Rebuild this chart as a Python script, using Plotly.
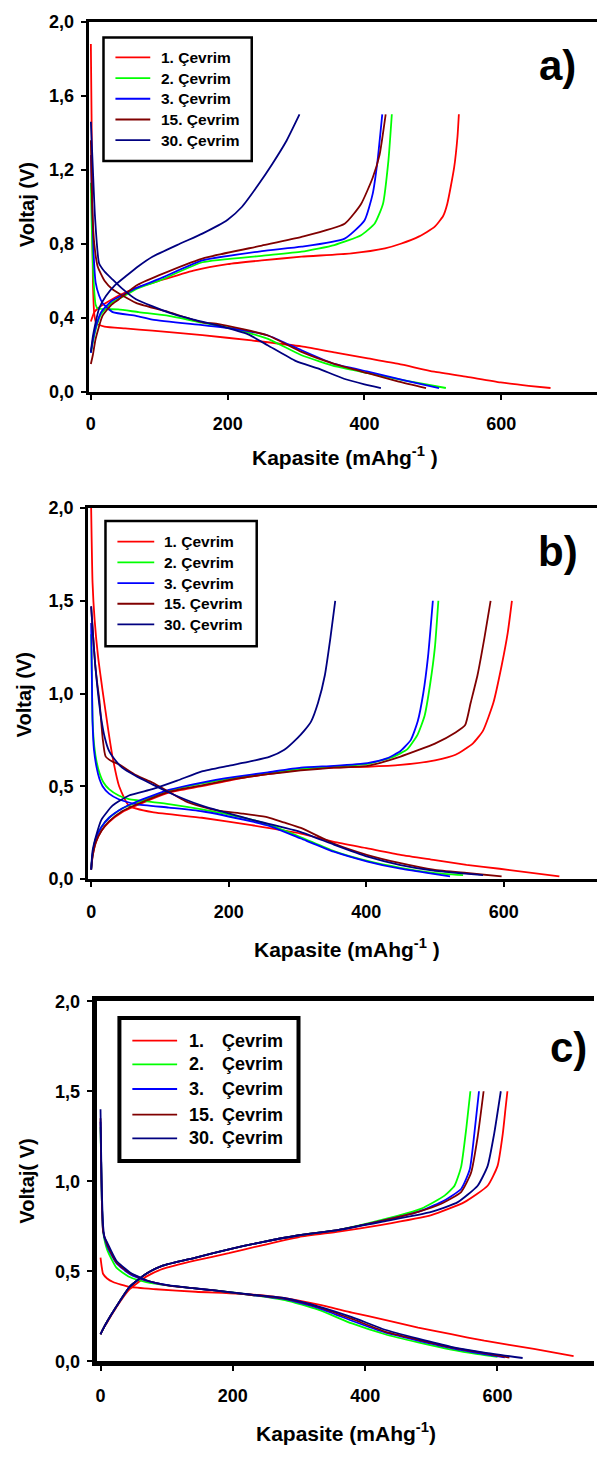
import plotly.graph_objects as go

W, H = 597, 1461
COLORS = ["#FF0000", "#00FF00", "#0000FF", "#800000", "#000080"]
CYCLES = ["1. Çevrim", "2. Çevrim", "3. Çevrim", "15. Çevrim", "30. Çevrim"]
CYCLE_NUMS = ["1.", "2.", "3.", "15.", "30."]
X_TICKS = [0, 200, 400, 600]
X_TICKTEXT = ["0", "200", "400", "600"]
YA_TICKS = [0, 0.4, 0.8, 1.2, 1.6, 2.0]
YA_TICKTEXT = ["0,0", "0,4", "0,8", "1,2", "1,6", "2,0"]
YB_TICKS = [0, 0.5, 1.0, 1.5, 2.0]
YB_TICKTEXT = ["0,0", "0,5", "1,0", "1,5", "2,0"]

# ---------------- Panel a ----------------
A1_DIS_CAP = [0, 1, 2, 3, 5, 8, 20, 50, 90, 163, 235, 308, 360, 405, 450, 502, 550, 599, 640, 672]
A1_DIS_V = [1.88, 1.5, 1.0, 0.6, 0.42, 0.37, 0.352, 0.342, 0.33, 0.306, 0.277, 0.245, 0.21, 0.18, 0.15, 0.108, 0.08, 0.05, 0.032, 0.02]
A1_CHG_CAP = [0, 5, 10, 20, 41, 66, 100, 150, 200, 250, 308, 381, 430, 453, 480, 502, 515, 521, 531, 536, 538]
A1_CHG_V = [0.38, 0.43, 0.45, 0.475, 0.52, 0.56, 0.6, 0.655, 0.69, 0.71, 0.73, 0.748, 0.775, 0.8, 0.84, 0.89, 0.95, 1.015, 1.21, 1.38, 1.5]

A2_DIS_CAP = [0, 1, 2, 4, 7, 10, 40, 70, 114, 163, 210, 259, 308, 360, 405, 460, 519]
A2_DIS_V = [1.13, 0.95, 0.8, 0.6, 0.47, 0.45, 0.445, 0.43, 0.41, 0.373, 0.34, 0.286, 0.197, 0.135, 0.1, 0.06, 0.02]
A2_CHG_CAP = [0, 3, 8, 15, 30, 50, 66, 100, 163, 250, 308, 356, 395, 415, 427, 435, 440]
A2_CHG_V = [0.21, 0.27, 0.35, 0.42, 0.48, 0.52, 0.555, 0.6, 0.7, 0.735, 0.757, 0.793, 0.846, 0.91, 1.015, 1.25, 1.5]

A3_DIS_CAP = [0, 2, 4, 7, 12, 17, 32, 66, 90, 163, 210, 259, 308, 356, 405, 460, 509]
A3_DIS_V = [1.28, 1.0, 0.75, 0.59, 0.52, 0.48, 0.43, 0.41, 0.39, 0.36, 0.34, 0.304, 0.224, 0.15, 0.108, 0.06, 0.02]
A3_CHG_CAP = [0, 3, 8, 15, 30, 50, 66, 100, 163, 250, 308, 371, 400, 412, 419, 426]
A3_CHG_V = [0.21, 0.28, 0.36, 0.43, 0.49, 0.53, 0.56, 0.61, 0.71, 0.76, 0.784, 0.828, 0.926, 1.07, 1.246, 1.5]

A15_DIS_CAP = [0, 2, 5, 10, 20, 32, 66, 114, 163, 187, 259, 308, 356, 405, 450, 490]
A15_DIS_V = [1.36, 1.0, 0.8, 0.677, 0.6, 0.553, 0.48, 0.43, 0.375, 0.366, 0.304, 0.215, 0.15, 0.1, 0.055, 0.02]
A15_CHG_CAP = [0, 3, 7, 17, 30, 41, 66, 100, 163, 250, 308, 371, 395, 412, 422, 431]
A15_CHG_V = [0.15, 0.2, 0.286, 0.41, 0.47, 0.5, 0.573, 0.63, 0.72, 0.79, 0.837, 0.908, 1.015, 1.157, 1.28, 1.5]

A30_DIS_CAP = [0, 3, 6, 12, 20, 32, 45, 66, 114, 150, 187, 230, 259, 300, 332, 370, 400, 424]
A30_DIS_V = [1.46, 1.2, 0.95, 0.695, 0.65, 0.606, 0.56, 0.5, 0.428, 0.39, 0.357, 0.31, 0.25, 0.165, 0.126, 0.07, 0.04, 0.02]
A30_CHG_CAP = [0, 3, 7, 12, 22, 35, 51, 70, 90, 130, 163, 200, 221, 245, 265, 285, 305]
A30_CHG_V = [0.215, 0.3, 0.375, 0.45, 0.517, 0.575, 0.624, 0.68, 0.73, 0.8, 0.855, 0.93, 1.0, 1.12, 1.23, 1.35, 1.5]

# ---------------- Panel b ----------------
B1_DIS_CAP = [0, 2, 5, 10, 16.6, 25, 31, 40.7, 55, 89, 161, 233, 305, 353, 402, 450, 498, 546, 594, 681]
B1_DIS_V = [2.0, 1.6, 1.4, 1.2, 1.016, 0.8, 0.66, 0.5, 0.395, 0.36, 0.33, 0.29, 0.245, 0.2, 0.165, 0.13, 0.103, 0.076, 0.055, 0.014]
B1_CHG_CAP = [0, 2, 7, 15, 26, 45, 65, 113, 161, 209, 257, 305, 353, 402, 450, 500, 530, 555, 570, 585, 597, 606, 612]
B1_CHG_V = [0.05, 0.12, 0.2, 0.26, 0.307, 0.36, 0.395, 0.466, 0.5, 0.537, 0.565, 0.59, 0.6, 0.605, 0.615, 0.64, 0.67, 0.73, 0.8, 0.95, 1.15, 1.33, 1.5]

B2_DIS_CAP = [0, 1, 2, 4.6, 8, 12, 18, 26, 40, 55, 113, 161, 233, 260, 305, 353, 402, 450, 498, 541]
B2_DIS_V = [1.32, 1.1, 0.86, 0.714, 0.63, 0.573, 0.52, 0.484, 0.45, 0.43, 0.404, 0.375, 0.32, 0.29, 0.225, 0.15, 0.097, 0.06, 0.033, 0.02]
B2_CHG_CAP = [0, 2, 7, 15, 26, 45, 65, 113, 161, 209, 257, 305, 353, 402, 440, 460, 475, 485, 493, 500, 505]
B2_CHG_V = [0.05, 0.13, 0.22, 0.28, 0.33, 0.38, 0.41, 0.475, 0.515, 0.545, 0.57, 0.595, 0.605, 0.62, 0.66, 0.7, 0.78, 0.88, 1.05, 1.25, 1.5]

B3_DIS_CAP = [0, 1, 2, 4, 8, 12, 16.6, 26, 40, 65, 113, 161, 233, 260, 305, 353, 402, 450, 498, 522]
B3_DIS_V = [1.38, 1.1, 0.85, 0.7, 0.6, 0.54, 0.5, 0.46, 0.43, 0.404, 0.385, 0.365, 0.31, 0.285, 0.218, 0.147, 0.094, 0.055, 0.027, 0.014]
B3_CHG_CAP = [0, 2, 7, 15, 26, 45, 65, 113, 161, 209, 257, 305, 353, 402, 430, 450, 465, 475, 483, 490, 497]
B3_CHG_V = [0.05, 0.13, 0.22, 0.28, 0.33, 0.38, 0.415, 0.48, 0.52, 0.55, 0.575, 0.6, 0.61, 0.625, 0.65, 0.69, 0.75, 0.85, 1.0, 1.2, 1.5]

B15_DIS_CAP = [0, 3, 6, 9, 12, 17, 21, 30, 41, 65, 89, 113, 137, 161, 185, 221, 257, 280, 305, 353, 402, 450, 498, 546, 597]
B15_DIS_V = [1.47, 1.3, 1.15, 1.05, 0.963, 0.75, 0.661, 0.635, 0.617, 0.56, 0.52, 0.47, 0.42, 0.39, 0.368, 0.352, 0.332, 0.305, 0.275, 0.191, 0.129, 0.085, 0.05, 0.032, 0.014]
B15_CHG_CAP = [0, 2, 7, 15, 26, 45, 65, 113, 161, 209, 257, 305, 353, 402, 450, 500, 530, 544, 552, 562, 572, 581]
B15_CHG_V = [0.05, 0.12, 0.2, 0.26, 0.31, 0.365, 0.4, 0.47, 0.505, 0.54, 0.565, 0.585, 0.6, 0.61, 0.66, 0.73, 0.79, 0.83, 0.95, 1.1, 1.3, 1.5]

B30_DIS_CAP = [0, 3, 6, 10, 14, 20, 26, 31, 45, 65, 89, 113, 161, 233, 305, 353, 402, 450, 498, 540, 570]
B30_DIS_V = [1.47, 1.3, 1.15, 1.0, 0.88, 0.76, 0.69, 0.66, 0.6, 0.555, 0.51, 0.466, 0.395, 0.32, 0.253, 0.185, 0.12, 0.075, 0.045, 0.03, 0.02]
B30_CHG_CAP = [0, 2, 7, 15, 31, 55, 89, 125, 161, 200, 233, 260, 281, 300, 310, 320, 330, 340, 348, 355]
B30_CHG_V = [0.05, 0.15, 0.23, 0.32, 0.395, 0.45, 0.484, 0.53, 0.58, 0.61, 0.635, 0.66, 0.697, 0.76, 0.8, 0.85, 0.95, 1.1, 1.3, 1.5]

# ---------------- Panel c ----------------
C1_DIS_CAP = [0, 2, 3.8, 10, 19, 44, 84, 144, 239, 279, 330, 380, 405, 480, 530, 580, 655, 715]
C1_DIS_V = [0.576, 0.52, 0.486, 0.46, 0.44, 0.413, 0.4, 0.386, 0.368, 0.35, 0.314, 0.27, 0.25, 0.187, 0.15, 0.114, 0.069, 0.029]
C1_CHG_CAP = [0, 4, 9, 24, 44, 69, 94, 144, 194, 239, 300, 360, 425, 500, 550, 585, 600, 608, 612, 615]
C1_CHG_V = [0.15, 0.18, 0.21, 0.3, 0.4, 0.47, 0.513, 0.56, 0.6, 0.64, 0.69, 0.72, 0.758, 0.812, 0.884, 0.975, 1.084, 1.265, 1.4, 1.5]

C2_DIS_CAP = [0, 1, 2, 4, 10, 24, 44, 69, 104, 169, 229, 279, 330, 380, 430, 480, 530, 570, 600]
C2_DIS_V = [1.3, 1.1, 0.9, 0.72, 0.62, 0.52, 0.468, 0.44, 0.42, 0.395, 0.368, 0.34, 0.285, 0.21, 0.15, 0.105, 0.065, 0.04, 0.025]
C2_CHG_CAP = [0, 4, 9, 24, 44, 69, 94, 144, 194, 239, 300, 360, 425, 485, 520, 535, 545, 553, 559]
C2_CHG_V = [0.15, 0.18, 0.214, 0.304, 0.413, 0.486, 0.531, 0.576, 0.622, 0.658, 0.7, 0.73, 0.785, 0.848, 0.92, 0.975, 1.08, 1.3, 1.5]

C3_DIS_CAP = [0, 1, 2, 4, 10, 24, 44, 69, 104, 169, 229, 279, 330, 380, 430, 480, 530, 580, 611]
C3_DIS_V = [1.33, 1.1, 0.9, 0.72, 0.64, 0.545, 0.485, 0.448, 0.42, 0.395, 0.368, 0.345, 0.295, 0.225, 0.16, 0.115, 0.073, 0.04, 0.022]
C3_CHG_CAP = [0, 4, 9, 24, 44, 69, 94, 144, 194, 239, 300, 360, 425, 480, 515, 545, 558, 565, 572]
C3_CHG_V = [0.15, 0.18, 0.214, 0.304, 0.413, 0.486, 0.531, 0.576, 0.622, 0.658, 0.7, 0.73, 0.78, 0.83, 0.884, 0.957, 1.065, 1.265, 1.5]

C15_DIS_CAP = [0, 1, 2, 4, 10, 24, 44, 69, 104, 169, 229, 279, 330, 380, 430, 480, 530, 580, 618]
C15_DIS_V = [1.35, 1.1, 0.9, 0.72, 0.65, 0.55, 0.49, 0.45, 0.42, 0.395, 0.368, 0.348, 0.3, 0.235, 0.165, 0.12, 0.077, 0.045, 0.02]
C15_CHG_CAP = [0, 4, 9, 24, 44, 69, 94, 144, 194, 239, 300, 360, 425, 480, 515, 545, 560, 570, 579]
C15_CHG_V = [0.15, 0.18, 0.214, 0.304, 0.413, 0.486, 0.531, 0.576, 0.622, 0.658, 0.7, 0.73, 0.78, 0.83, 0.875, 0.94, 1.047, 1.247, 1.5]

C30_DIS_CAP = [0, 1, 2, 4, 6, 10, 24, 44, 69, 104, 169, 229, 279, 330, 380, 430, 480, 530, 580, 638]
C30_DIS_V = [1.4, 1.15, 0.95, 0.75, 0.69, 0.66, 0.558, 0.495, 0.45, 0.422, 0.395, 0.37, 0.35, 0.304, 0.245, 0.175, 0.125, 0.08, 0.048, 0.018]
C30_CHG_CAP = [0, 4, 9, 24, 44, 69, 94, 144, 194, 239, 300, 360, 425, 500, 540, 570, 585, 595, 605]
C30_CHG_V = [0.15, 0.18, 0.214, 0.304, 0.413, 0.486, 0.531, 0.576, 0.622, 0.658, 0.7, 0.73, 0.775, 0.83, 0.884, 0.975, 1.084, 1.265, 1.5]

PANELS = [
    [(A1_DIS_CAP, A1_DIS_V, A1_CHG_CAP, A1_CHG_V), (A2_DIS_CAP, A2_DIS_V, A2_CHG_CAP, A2_CHG_V),
     (A3_DIS_CAP, A3_DIS_V, A3_CHG_CAP, A3_CHG_V), (A15_DIS_CAP, A15_DIS_V, A15_CHG_CAP, A15_CHG_V),
     (A30_DIS_CAP, A30_DIS_V, A30_CHG_CAP, A30_CHG_V)],
    [(B1_DIS_CAP, B1_DIS_V, B1_CHG_CAP, B1_CHG_V), (B2_DIS_CAP, B2_DIS_V, B2_CHG_CAP, B2_CHG_V),
     (B3_DIS_CAP, B3_DIS_V, B3_CHG_CAP, B3_CHG_V), (B15_DIS_CAP, B15_DIS_V, B15_CHG_CAP, B15_CHG_V),
     (B30_DIS_CAP, B30_DIS_V, B30_CHG_CAP, B30_CHG_V)],
    [(C1_DIS_CAP, C1_DIS_V, C1_CHG_CAP, C1_CHG_V), (C2_DIS_CAP, C2_DIS_V, C2_CHG_CAP, C2_CHG_V),
     (C3_DIS_CAP, C3_DIS_V, C3_CHG_CAP, C3_CHG_V), (C15_DIS_CAP, C15_DIS_V, C15_CHG_CAP, C15_CHG_V),
     (C30_DIS_CAP, C30_DIS_V, C30_CHG_CAP, C30_CHG_V)],
]


def px(x):
    return x / W


def py(y):
    return 1 - y / H


FONT = "Arial, Liberation Sans, sans-serif"

# panel geometry (pixels)
GEOM = [
    dict(left=86, right=597, top=12, bottom=387, x0=88.3, sx=0.6875, lw=3,
         yt=YA_TICKS, ytt=YA_TICKTEXT),
    dict(left=85.5, right=597, top=505, bottom=881, x0=88.6, sx=0.691, lw=3,
         yt=YB_TICKS, ytt=YB_TICKTEXT),
    dict(left=94, right=594, top=1005, bottom=1370, x0=98, sx=0.665, lw=5,
         yt=YB_TICKS, ytt=YB_TICKTEXT),
]

fig = go.Figure()
layout = dict(width=W, height=H, autosize=False, margin=dict(l=0, r=0, t=0, b=0),
              paper_bgcolor="white", plot_bgcolor="white", showlegend=False)

for i, (g, curves) in enumerate(zip(GEOM, PANELS)):
    sfx = "" if i == 0 else str(i + 1)
    xa, ya = "x" + sfx, "y" + sfx
    for (dc, dv, cc, cv), col, name in zip(curves, COLORS, CYCLES):
        fig.add_trace(go.Scatter(x=dc, y=dv, mode="lines",
                                 line=dict(color=col, width=1.8, shape="spline", smoothing=0.5),
                                 name=name, xaxis=xa, yaxis=ya))
        fig.add_trace(go.Scatter(x=cc, y=cv, mode="lines",
                                 line=dict(color=col, width=1.8, shape="spline", smoothing=0.5),
                                 name=name, xaxis=xa, yaxis=ya, showlegend=False))
    xr = [(g["left"] - g["x0"]) / g["sx"], (g["right"] - g["x0"]) / g["sx"]]
    layout["xaxis" + sfx] = dict(
        domain=[px(g["left"]), px(g["right"])], range=xr, anchor=ya,
        tickvals=X_TICKS, ticktext=X_TICKTEXT, ticks="outside", ticklen=5, tickwidth=1.5,
        tickcolor="black", showline=True, linewidth=g["lw"], linecolor="black", mirror=True,
        showgrid=False, zeroline=False, ticklabelstandoff=9,
        tickfont=dict(family=FONT, size=18, color="black", weight="bold"))
    layout["yaxis" + sfx] = dict(
        domain=[py(g["bottom"]), py(g["top"])], range=[0, 2], anchor=xa,
        tickvals=g["yt"], ticktext=g["ytt"], ticks="outside", ticklen=5, tickwidth=1.5,
        tickcolor="black", showline=True, linewidth=g["lw"], linecolor="black", mirror=False,
        showgrid=False, zeroline=False, ticklabelstandoff=3,
        tickfont=dict(family=FONT, size=18, color="black", weight="bold"))

fig.update_layout(**layout)

annotations = []
shapes = []

# axis titles
XT = [("Kapasite (mAhg<sup>-1</sup> )", 344, 452), ("Kapasite (mAhg<sup>-1</sup> )", 346, 951),
      ("Kapasite (mAhg<sup>-1</sup>)", 345, 1442)]
YT = [("Voltaj (V)", 24, 197), ("Voltaj (V)", 22, 694), ("Voltaj( V)", 24, 1187)]
for t, x, y in XT:
    annotations.append(dict(text=t, x=px(x), y=py(y), xref="paper", yref="paper", showarrow=False,
                            xanchor="center", yanchor="middle",
                            font=dict(family=FONT, size=21, color="black", weight="bold")))
for t, x, y in YT:
    annotations.append(dict(text=t, x=px(x), y=py(y), xref="paper", yref="paper", showarrow=False,
                            xanchor="center", yanchor="middle", textangle=-90,
                            font=dict(family=FONT, size=20, color="black", weight="bold")))

# panel labels
for t, x, y in [("a)", 557, 56), ("b)", 558, 549), ("c)", 568, 1052)]:
    annotations.append(dict(text=t, x=px(x), y=py(y), xref="paper", yref="paper", showarrow=False,
                            xanchor="center", yanchor="middle",
                            font=dict(family=FONT, size=42, color="black", weight="bold")))

# legends (boxes)
LEG = [
    dict(box=(101, 28, 250, 153), bw=2.5, rows=[48, 69, 90, 111, 132], l0=113, l1=148, tx=157, fs=15.5, split=None),
    dict(box=(103, 518, 255, 645), bw=2.5, rows=[539, 560, 581, 602, 623], l0=115, l1=152, tx=160, fs=15.5, split=None),
    dict(box=(117, 1022, 297, 1167), bw=4, rows=[1045, 1069, 1094, 1120, 1144], l0=130, l1=175, tx=185, fs=18, split=218),
]
for lg in LEG:
    x0, y0, x1, y1 = lg["box"]
    shapes.append(dict(type="rect", xref="paper", yref="paper", x0=px(x0), x1=px(x1), y0=py(y1), y1=py(y0),
                       line=dict(color="black", width=lg["bw"]), fillcolor="white", layer="above"))
    for r, col, name, num in zip(lg["rows"], COLORS, CYCLES, CYCLE_NUMS):
        shapes.append(dict(type="line", xref="paper", yref="paper", x0=px(lg["l0"]), x1=px(lg["l1"]),
                           y0=py(r), y1=py(r), line=dict(color=col, width=1.8), layer="above"))
        f = dict(family=FONT, size=lg["fs"], color="black", weight="bold")
        if lg["split"] is None:
            annotations.append(dict(text=name, x=px(lg["tx"]), y=py(r), xref="paper", yref="paper",
                                    showarrow=False, xanchor="left", yanchor="middle", font=f))
        else:
            annotations.append(dict(text=num, x=px(lg["tx"]), y=py(r), xref="paper", yref="paper",
                                    showarrow=False, xanchor="left", yanchor="middle", font=f))
            annotations.append(dict(text="Çevrim", x=px(lg["split"]), y=py(r), xref="paper", yref="paper",
                                    showarrow=False, xanchor="left", yanchor="middle", font=f))

fig.update_layout(annotations=annotations, shapes=shapes)
fig.write_html("out.html", config={"displayModeBar": False},
               post_script="document.body.style.margin='0';document.body.style.overflow='hidden';")
